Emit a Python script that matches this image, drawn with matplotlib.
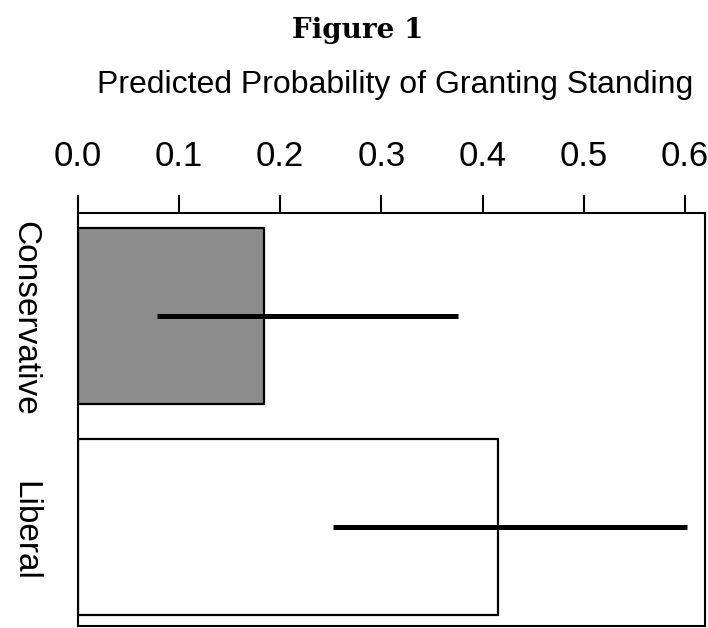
import matplotlib
matplotlib.use("Agg")
import matplotlib.pyplot as plt

# data
groups = ["Conservative", "Liberal"]
probs = [0.184, 0.415]
ci_low = [0.078, 0.252]
ci_high = [0.376, 0.602]
bar_colors = ["#8c8c8c", "white"]
xticks = [0.0, 0.1, 0.2, 0.3, 0.4, 0.5, 0.6]

plt.rcParams['font.family'] = ['Liberation Sans', 'DejaVu Sans']

fig = plt.figure(figsize=(7.08, 6.28), dpi=100)
ax = fig.add_axes([0.110, 0.003, 0.886, 0.658])

ypos = list(range(len(groups)))
ax.barh(ypos, probs, height=0.833, color=bar_colors,
        edgecolor="black", linewidth=1.6)
for y, lo, hi in zip(ypos, ci_low, ci_high):
    ax.plot([lo, hi], [y, y], color="black", linewidth=3.6,
            solid_capstyle="butt")

ax.set_xlim(0, 0.62)
ax.set_ylim(1.47, -0.488)

ax.xaxis.tick_top()
ax.set_xticks(xticks)
ax.set_xticklabels([f"{t:.1f}" for t in xticks], fontsize=25)
ax.tick_params(axis="x", direction="out", length=13, width=1.5, pad=16)
ax.set_yticks([])

for s in ax.spines.values():
    s.set_linewidth(1.5)

# rotated category labels on the left
for y, g in zip(ypos, groups):
    ax.text(-0.085, y + (0.01 if y == 0 else 0.02), g, rotation=270,
            fontsize=24, ha="center", va="center",
            transform=ax.get_yaxis_transform())

fig.text(0.505, 0.952, "Figure 1", fontsize=20, fontweight="bold",
         family=["DejaVu Serif"], ha="center", va="center")
fig.text(0.558, 0.865, "Predicted Probability of Granting Standing",
         fontsize=23, ha="center", va="center")

fig.savefig("out.png", dpi=100)
